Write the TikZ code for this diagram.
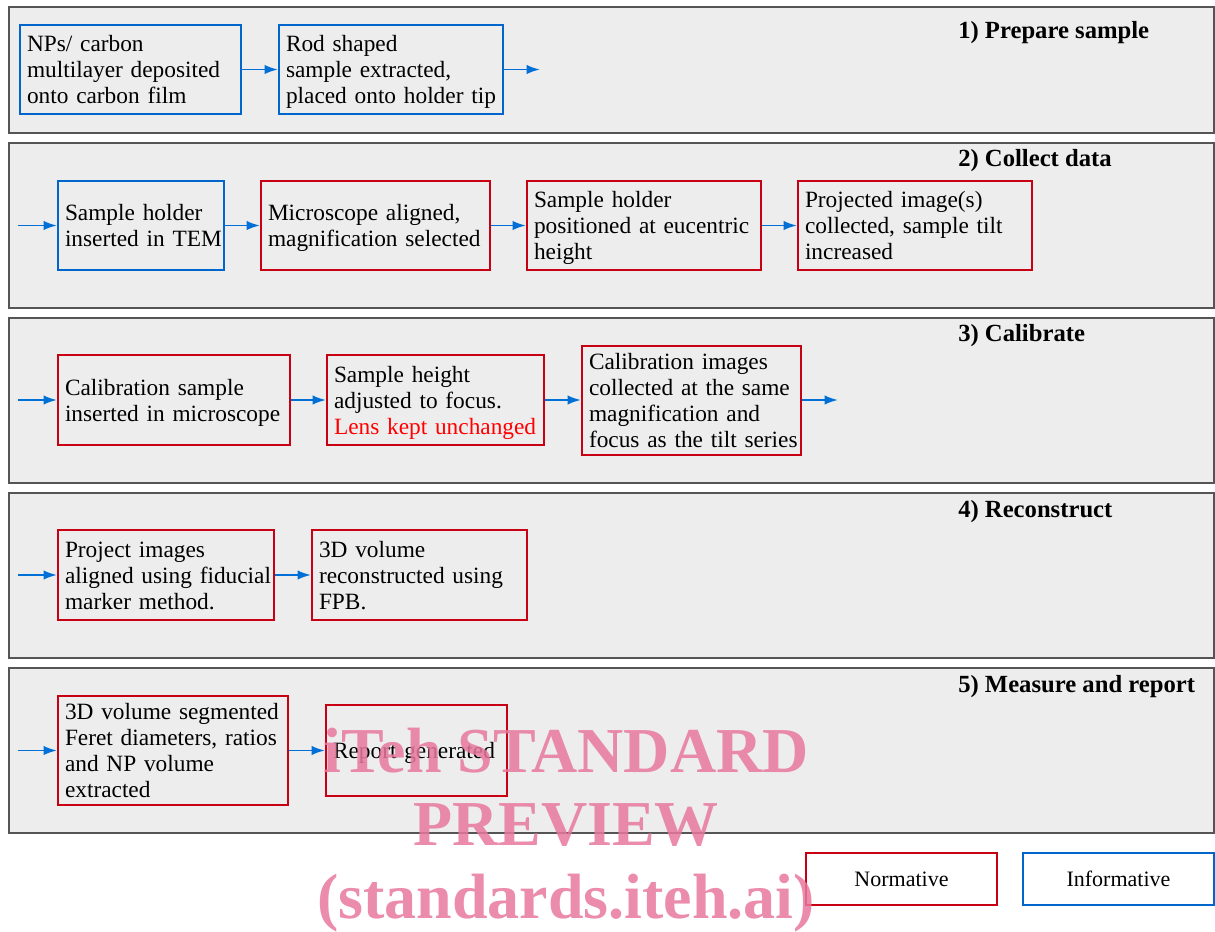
\documentclass[tikz,border=0pt]{standalone}
\usepackage{fontspec}
\setmainfont{Liberation Serif}
\usetikzlibrary{arrows.meta}
\definecolor{nred}{RGB}{200,0,20}
\definecolor{iblue}{RGB}{0,102,204}
\definecolor{arblue}{RGB}{0,112,215}
\definecolor{panelfill}{RGB}{237,237,237}
\definecolor{panelline}{RGB}{85,85,85}
\definecolor{wmark}{RGB}{232,120,158}
\definecolor{lensred}{RGB}{255,0,0}
\newcommand{\ls}[1]{\raisebox{-2.25pt}[\height][\depth]{\begin{tabular}{@{}l@{}}#1\end{tabular}}}
\begin{document}
\begin{tikzpicture}[x=0.75pt,y=-0.75pt,
 panel/.style={draw=panelline,fill=panelfill,line width=1pt},
 stepbase/.style={line width=1.5pt, fill=panelfill, align=left, inner xsep=5.25pt, inner ysep=0pt, font=\fontsize{17.5}{19.5}\selectfont},
 norm/.style={stepbase,draw=nred},
 info/.style={stepbase,draw=iblue},
 legendbox/.style={line width=1.5pt, fill=white, align=center, inner sep=0pt, font=\fontsize{16.5}{19}\selectfont},
 flow/.style={draw=arblue,line width=1.4pt,-{Latex[length=10pt,width=7pt]}},
 head/.style={anchor=west,font=\fontsize{18.5}{20}\selectfont\bfseries,inner sep=0pt},
 wm/.style={text=wmark,opacity=0.85,font=\fontsize{48}{50}\selectfont\bfseries,anchor=base,inner sep=0pt}]
\useasboundingbox (0,0) rectangle (1215,932);
\fill[white] (0,0) rectangle (1215,932);

% panels
\path[panel] (9,7) rectangle (1214,133);
\path[panel] (9,143) rectangle (1214,308);
\path[panel] (9,318) rectangle (1214,483);
\path[panel] (9,493) rectangle (1214,658);
\path[panel] (9,668) rectangle (1214,833);

% headers
\node[head] (h1) at (958,33) {1) Prepare sample};
\node[head] (h2) at (958,161) {2) Collect data};
\node[head] (h3) at (958,336) {3) Calibrate};
\node[head] (h4) at (958,512) {4) Reconstruct};
\node[head] (h5) at (958,687) {5) Measure and report};

% panel 1
\node[info, minimum height=66.75pt, text width=155.25pt] (A1) at (130.5,69.5) {\ls{NPs/ carbon\\ multilayer deposited\\ onto carbon film}};
\node[info, minimum height=66.75pt, text width=157.5pt] (A2) at (391,69.5) {\ls{Rod shaped\\ sample extracted,\\ placed onto holder tip}};
\coordinate (out1) at (540,69.5);
\draw[flow] (A1) -- (A2);
\draw[flow] (A2) -- (out1);

% panel 2
\node[info, minimum height=66.75pt, text width=114pt] (B1) at (141,225.5) {\ls{Sample holder\\ inserted in TEM}};
\node[norm, minimum height=66.75pt, text width=161.25pt] (B2) at (375.5,225.5) {\ls{Microscope aligned,\\ magnification selected}};
\node[norm, minimum height=66.75pt, text width=165pt] (B3) at (644,225.5) {\ls{Sample holder\\ positioned at eucentric\\ height}};
\node[norm, minimum height=66.75pt, text width=165pt] (B4) at (915,225.5) {\ls{Projected image(s)\\ collected, sample tilt\\ increased}};
\coordinate (in2) at (18,225.5);
\draw[flow] (in2) -- (B1);
\draw[flow] (B1) -- (B2);
\draw[flow] (B2) -- (B3);
\draw[flow] (B3) -- (B4);

% panel 3
\node[norm, minimum height=67.5pt, text width=163.5pt] (C1) at (174,400) {\ls{Calibration sample\\ inserted in microscope}};
\node[norm, minimum height=67.5pt, text width=152.25pt] (C2) at (435.5,400) {\ls{Sample height\\ adjusted to focus.\\ \textcolor{lensred}{Lens kept unchanged}}};
\node[norm, minimum height=81.75pt, text width=153.75pt] (C3) at (691.5,400.5) {\ls{Calibration images\\ collected at the same\\ magnification and\\ focus as the tilt series}};
\coordinate (in3) at (18,400);
\coordinate (out3) at (838,400);
\draw[flow] (in3) -- (C1);
\draw[flow] (C1) -- (C2);
\draw[flow] (C2) -- (C2 -| C3.west);
\draw[flow] (C3.east |- out3) -- (out3);

% panel 4
\node[norm, minimum height=67.5pt, text width=151.5pt] (D1) at (166,575) {\ls{Project images\\ aligned using fiducial\\ marker method.}};
\node[norm, minimum height=67.5pt, text width=150.75pt] (D2) at (419.5,575) {\ls{3D volume\\ reconstructed using\\ FPB.}};
\coordinate (in4) at (18,575);
\draw[flow] (in4) -- (D1);
\draw[flow] (D1) -- (D2);

% panel 5
\node[norm, minimum height=81.75pt, text width=162pt] (E1) at (173,750.5) {\ls{3D volume segmented\\ Feret diameters, ratios\\ and NP volume\\ extracted}};
\node[norm, minimum height=68.25pt, text width=125.25pt] (E2) at (416.5,750.5) {\ls{Report generated}};
\coordinate (in5) at (18,750.5);
\draw[flow] (in5) -- (E1);
\draw[flow] (E1) -- (E2);

% legend
\node[legendbox, draw=nred, minimum width=143.25pt, minimum height=39pt] (LN) at (901.5,879) {Normative};
\node[legendbox, draw=iblue, minimum width=143.25pt, minimum height=39pt] (LI) at (1118.5,879) {Informative};

% watermark
\node[wm] (wm1) at (566,772) {iTeh STANDARD};
\node[wm] (wm2) at (566,845) {PREVIEW};
\node[wm] (wm3) at (566,918) {(standards.iteh.ai)};
\end{tikzpicture}
\end{document}
